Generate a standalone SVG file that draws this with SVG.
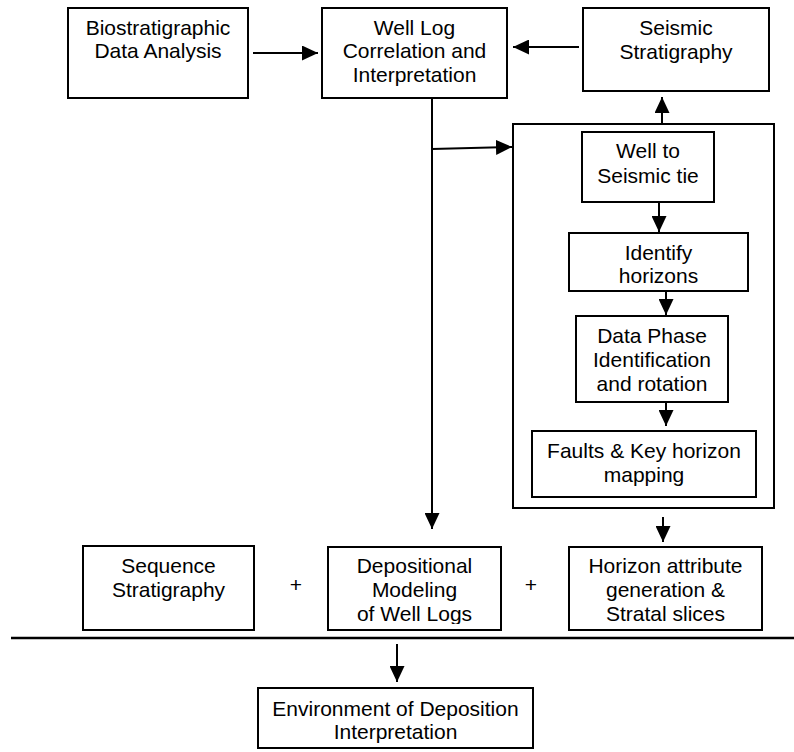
<svg xmlns="http://www.w3.org/2000/svg" width="794" height="752" viewBox="0 0 794 752">
<style>
.box{fill:#fff;stroke:#000;stroke-width:2}
.t{font-family:"Liberation Sans",Arial,Helvetica,sans-serif;font-size:21px;fill:#000;text-anchor:middle}
.ln{stroke:#000;stroke-width:2;fill:none}
</style>
<defs>
<marker id="ah" markerUnits="userSpaceOnUse" markerWidth="17" markerHeight="15" refX="16" refY="7.5" orient="auto">
<path d="M0,0 L16,7.5 L0,15 z" fill="#000"/>
</marker>
<clipPath id="depclip"><rect x="328" y="547" width="173" height="77"/></clipPath>
</defs>
<rect width="794" height="752" fill="#fff"/>

<g id="bio">
<rect class="box" x="68" y="8" width="180" height="90"/>
<text class="t" x="158" y="35">Biostratigraphic</text>
<text class="t" x="158" y="58">Data Analysis</text>
</g>
<g id="welllog">
<rect class="box" x="322" y="8" width="185" height="90"/>
<text class="t" x="414.5" y="35">Well Log</text>
<text class="t" x="414.5" y="58">Correlation and</text>
<text class="t" x="414.5" y="82">Interpretation</text>
</g>
<g id="seismic">
<rect class="box" x="583" y="8" width="186" height="83"/>
<text class="t" x="676" y="35">Seismic</text>
<text class="t" x="676" y="59">Stratigraphy</text>
</g>
<g id="container">
<rect class="box" x="513" y="124" width="261" height="384"/>
</g>
<g id="tie">
<rect class="box" x="582" y="132" width="132" height="70"/>
<text class="t" x="648" y="158">Well to</text>
<text class="t" x="648" y="183">Seismic tie</text>
</g>
<g id="identify">
<rect class="box" x="569" y="233" width="179" height="58"/>
<text class="t" x="658.5" y="260">Identify</text>
<text class="t" x="658.5" y="283">horizons</text>
</g>
<g id="phase">
<rect class="box" x="576" y="316" width="152" height="86"/>
<text class="t" x="652" y="343">Data Phase</text>
<text class="t" x="652" y="367">Identification</text>
<text class="t" x="652" y="391">and rotation</text>
</g>
<g id="faults">
<rect class="box" x="532" y="431" width="224" height="66"/>
<text class="t" x="644" y="458">Faults &amp; Key horizon</text>
<text class="t" x="644" y="482">mapping</text>
</g>
<g id="sequence">
<rect class="box" x="83" y="546" width="171" height="84"/>
<text class="t" x="168.5" y="573">Sequence</text>
<text class="t" x="168.5" y="597">Stratigraphy</text>
</g>
<g id="depositional">
<rect class="box" x="328" y="547" width="173" height="83"/>
<g clip-path="url(#depclip)">
<text class="t" x="414.5" y="573">Depositional</text>
<text class="t" x="414.5" y="597">Modeling</text>
<text class="t" x="414.5" y="621">of Well Logs</text>
</g>
</g>
<g id="horizon">
<rect class="box" x="569" y="547" width="193" height="83"/>
<text class="t" x="665.5" y="573">Horizon attribute</text>
<text class="t" x="665.5" y="597">generation &amp;</text>
<text class="t" x="665.5" y="621">Stratal slices</text>
</g>
<g id="plus">
<text class="t" x="296" y="592">+</text>
<text class="t" x="531" y="592">+</text>
</g>
<g id="environment">
<rect class="box" x="258" y="688" width="275" height="60"/>
<text class="t" x="395.5" y="716">Environment of Deposition</text>
<text class="t" x="395.5" y="739">Interpretation</text>
</g>

<g id="connectors">
<line class="ln" x1="253" y1="53" x2="318" y2="53" marker-end="url(#ah)"/>
<line class="ln" x1="579" y1="47" x2="513" y2="47" marker-end="url(#ah)"/>
<line class="ln" x1="662" y1="124" x2="662" y2="97" marker-end="url(#ah)"/>
<line class="ln" x1="432" y1="98" x2="432" y2="529" marker-end="url(#ah)"/>
<line class="ln" x1="432" y1="149" x2="512" y2="147" marker-end="url(#ah)"/>
<line class="ln" x1="659" y1="202" x2="659" y2="232" marker-end="url(#ah)"/>
<line class="ln" x1="666" y1="291" x2="666" y2="315" marker-end="url(#ah)"/>
<line class="ln" x1="666" y1="402" x2="666" y2="426" marker-end="url(#ah)"/>
<line class="ln" x1="663" y1="517" x2="663" y2="542" marker-end="url(#ah)"/>
<line class="ln" x1="397" y1="644" x2="397" y2="682" marker-end="url(#ah)"/>
<line x1="11" y1="638" x2="794" y2="638" stroke="#000" stroke-width="2.5"/>
</g>
</svg>
